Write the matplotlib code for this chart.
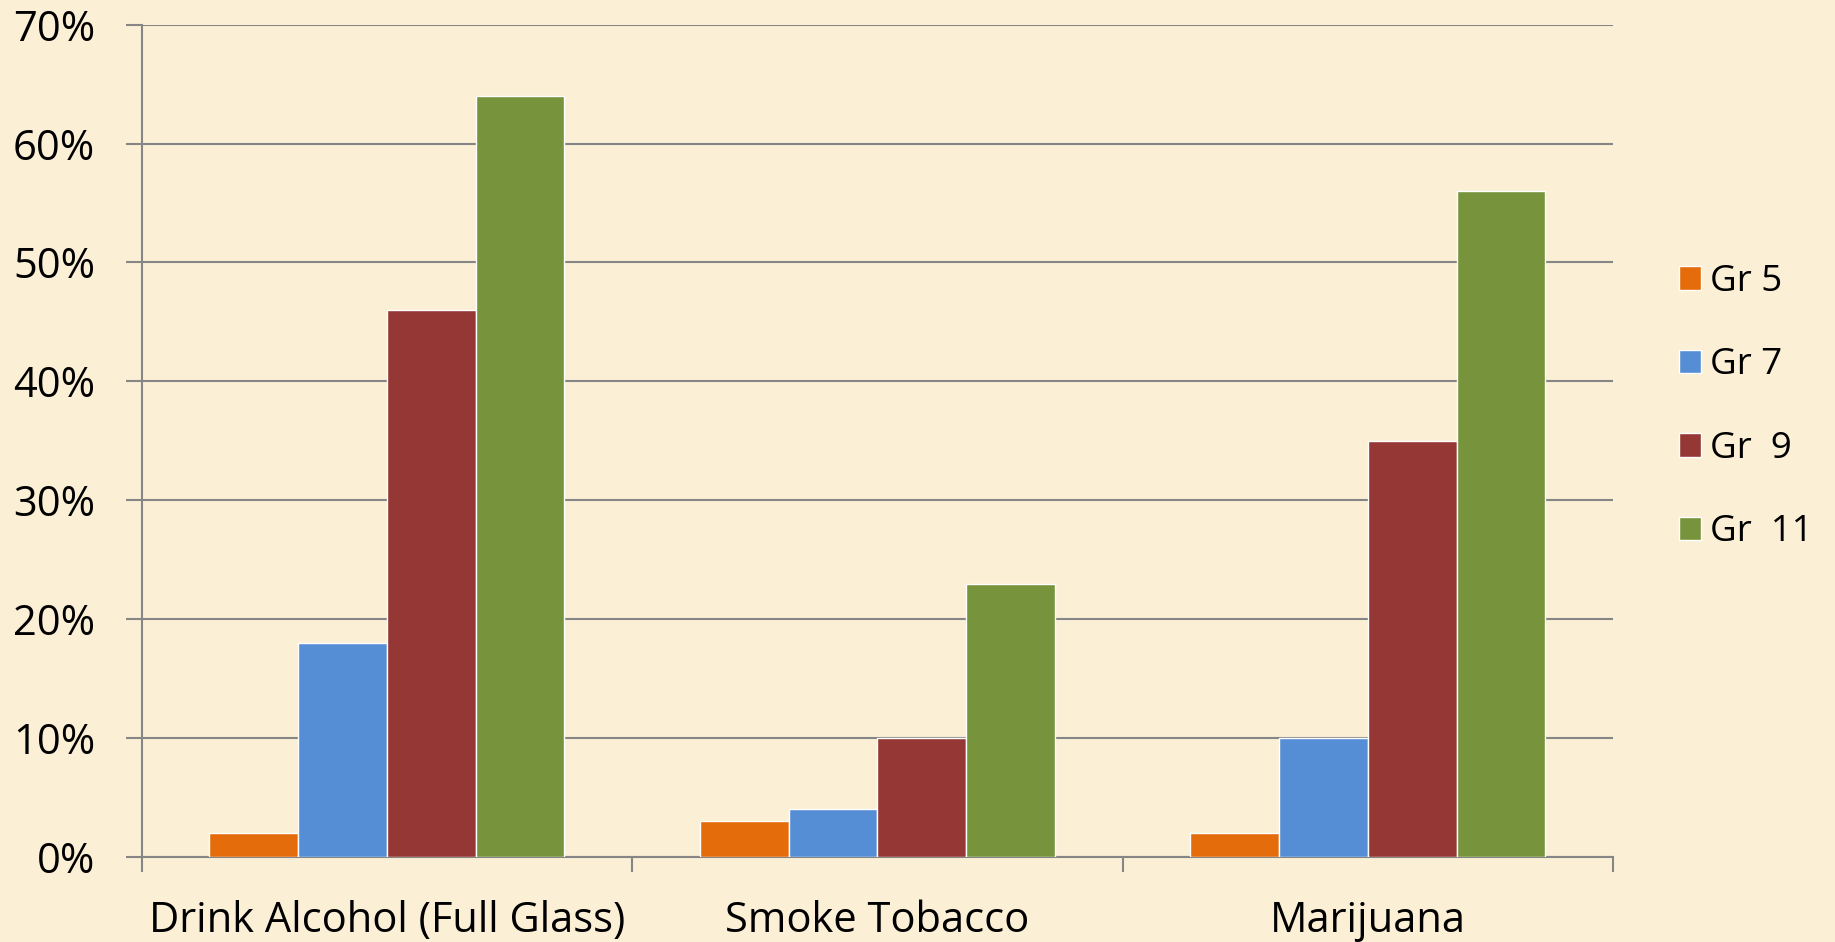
import matplotlib
matplotlib.use("Agg")
import matplotlib.pyplot as plt
import numpy as np
from matplotlib.ticker import FuncFormatter, FixedLocator

categories = ["Drink Alcohol (Full Glass)", "Smoke Tobacco", "Marijuana"]
series_names = ["Gr 5", "Gr 7", "Gr  9", "Gr  11"]
gr5 = [2, 3, 2]
gr7 = [18, 4, 10]
gr9 = [46, 10, 35]
gr11 = [64, 23, 56]
y_ticks = [0, 10, 20, 30, 40, 50, 60, 70]

series = [gr5, gr7, gr9, gr11]
colors = ["#E46C0A", "#558ED5", "#953735", "#77933C"]
bg = "#FBEFD6"
grid_c = "#868686"

plt.rcParams['font.family'] = ['Open Sans', 'DejaVu Sans']

fig = plt.figure(figsize=(18.35, 9.42), dpi=100, facecolor=bg)
ax = fig.add_axes([0.0772, 0.0902, 0.879 - 0.0772, 0.9739 - 0.0902])
ax.set_facecolor(bg)

x = np.arange(len(categories))
w = 0.181
for k, (vals, c, name) in enumerate(zip(series, colors, series_names)):
    ax.bar(x + (k - 1.5) * w, vals, width=w, color=c, edgecolor="white",
           linewidth=1.0, label=name, zorder=3)

ax.set_xlim(-0.5, len(categories) - 0.5)
ax.set_ylim(0, 70)
ax.yaxis.set_major_locator(FixedLocator(y_ticks))
ax.yaxis.set_major_formatter(FuncFormatter(lambda v, p: f"{int(v)}%"))
ax.grid(axis="y", color=grid_c, linewidth=1.5, zorder=0)

ax.set_xticks(x)
ax.set_xticklabels(categories)
ax.set_xticks(np.arange(-0.5, len(categories), 1.0), minor=True)
ax.tick_params(axis="x", which="major", length=0, pad=31, labelsize=30)
ax.tick_params(axis="x", which="minor", length=11, width=1.5, color=grid_c, direction="out")
ax.tick_params(axis="y", length=11.5, width=1.5, color=grid_c, pad=22, labelsize=30)

for s in ["top", "right"]:
    ax.spines[s].set_visible(False)
for s in ["left", "bottom"]:
    ax.spines[s].set_color(grid_c)
    ax.spines[s].set_linewidth(1.5)

leg = fig.legend(loc="upper left", bbox_to_anchor=(0.897, 0.755), frameon=False,
                 fontsize=26.5, handlelength=0.6, handleheight=0.6,
                 handletextpad=0.25, labelspacing=1.29)

fig.savefig("out.png", dpi=100, facecolor=bg)
